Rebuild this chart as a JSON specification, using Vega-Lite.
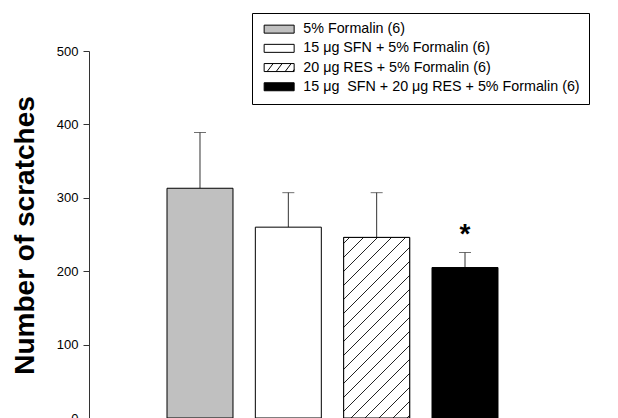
{
  "$schema": "https://vega.github.io/schema/vega-lite/v6.json",
  "autosize": {"type": "none"},
  "padding": {"left": 89, "top": 51, "right": 42, "bottom": 0},
  "width": 487,
  "height": 367,
  "background": "white",
  "config": {"view": {"stroke": null}, "font": "Liberation Sans"},
  "data": {"values": [
    {"g": "5% Formalin (6)", "v": 313, "e": 389},
    {"g": "15 μg SFN + 5% Formalin (6)", "v": 260, "e": 307},
    {"g": "20 μg RES + 5% Formalin (6)", "v": 246, "e": 307, "hatch": true},
    {"g": "15 μg \u00a0SFN + 20 μg RES + 5% Formalin (6)", "v": 205, "e": 225.5, "sig": "*"}
  ]},
  "encoding": {
    "x": {"field": "g", "type": "nominal", "sort": null, "axis": null,
          "scale": {"paddingInner": 0.253, "paddingOuter": 0.883}}
  },
  "layer": [
    {
      "mark": {"type": "rule", "color": "#333", "strokeWidth": 1},
      "encoding": {
        "y": {"field": "v", "type": "quantitative"},
        "y2": {"field": "e"}
      }
    },
    {
      "mark": {"type": "tick", "color": "#333", "size": 12, "thickness": 1, "orient": "horizontal"},
      "encoding": {
        "y": {"field": "e", "type": "quantitative"}
      }
    },
    {
      "mark": {"type": "bar", "stroke": "black", "strokeWidth": 1, "opacity": 1},
      "encoding": {
        "y": {"field": "v", "type": "quantitative",
              "scale": {"domain": [0, 500], "nice": false},
              "axis": {"values": [0, 100, 200, 300, 400, 500], "grid": false,
                       "title": "Number of scratches",
                       "titleFont": "Liberation Sans", "titleFontWeight": "bold", "titleFontSize": 28,
                       "titleColor": "black", "titleAngle": 270, "titleBaseline": "alphabetic",
                       "titleAlign": "center", "titleX": -56, "titleY": 184,
                       "labelFont": "Liberation Sans", "labelFontSize": 13, "labelColor": "black",
                       "labelPadding": 5, "tickSize": 6, "tickColor": "#333", "domainColor": "#333"}},
        "color": {
          "field": "g", "type": "nominal",
          "scale": {"domain": ["5% Formalin (6)", "15 μg SFN + 5% Formalin (6)", "20 μg RES + 5% Formalin (6)", "15 μg \u00a0SFN + 20 μg RES + 5% Formalin (6)"],
                    "range": ["#c0c0c0", "white", "white", "black"]},
          "legend": {
            "orient": "none", "legendX": 163, "legendY": -38, "title": null,
            "symbolType": "M-3,-0.8H3V0.8H-3Z", "symbolSize": 100,
            "symbolStrokeColor": "black", "symbolStrokeWidth": 1, "symbolOpacity": 1,
            "symbolOffset": 11, "labelOffset": 17, "labelLimit": 0,
            "labelFont": "Liberation Sans", "labelFontSize": 14.3, "labelColor": "black",
            "rowPadding": 4.2, "strokeColor": "black", "padding": 9,
            "encode": {"symbols": {"update": {"shape": {"signal": "datum.value === '20 μg RES + 5% Formalin (6)' ? 'M-3,-0.8H3V0.8H-3Z M-2.4,0.8L-1.2,-0.8 M-0.6,0.8L0.6,-0.8 M1.2,0.8L2.4,-0.8 M2.7,0.8L3,0.4' : 'M-3,-0.8H3V0.8H-3Z'"}}}}
          }
        }
      }
    },
    {
      "transform": [{"filter": "datum.hatch"}],
      "mark": {"type": "bar", "stroke": "black", "strokeWidth": 1,
        "fill": {"gradient": "linear", "x1": 0, "y1": 0, "x2": 0.44, "y2": 1.205,
              "stops": [
                {"offset": 0, "color": "white"},
                {"offset": 0.0213, "color": "white"}, {"offset": 0.0213, "color": "#222"}, {"offset": 0.0273, "color": "#222"}, {"offset": 0.0273, "color": "white"},
                {"offset": 0.0781, "color": "white"}, {"offset": 0.0781, "color": "#222"}, {"offset": 0.0841, "color": "#222"}, {"offset": 0.0841, "color": "white"},
                {"offset": 0.1349, "color": "white"}, {"offset": 0.1349, "color": "#222"}, {"offset": 0.1409, "color": "#222"}, {"offset": 0.1409, "color": "white"},
                {"offset": 0.1916, "color": "white"}, {"offset": 0.1916, "color": "#222"}, {"offset": 0.1976, "color": "#222"}, {"offset": 0.1976, "color": "white"},
                {"offset": 0.2484, "color": "white"}, {"offset": 0.2484, "color": "#222"}, {"offset": 0.2544, "color": "#222"}, {"offset": 0.2544, "color": "white"},
                {"offset": 0.3052, "color": "white"}, {"offset": 0.3052, "color": "#222"}, {"offset": 0.3112, "color": "#222"}, {"offset": 0.3112, "color": "white"},
                {"offset": 0.3620, "color": "white"}, {"offset": 0.3620, "color": "#222"}, {"offset": 0.3680, "color": "#222"}, {"offset": 0.3680, "color": "white"},
                {"offset": 0.4187, "color": "white"}, {"offset": 0.4187, "color": "#222"}, {"offset": 0.4247, "color": "#222"}, {"offset": 0.4247, "color": "white"},
                {"offset": 0.4755, "color": "white"}, {"offset": 0.4755, "color": "#222"}, {"offset": 0.4815, "color": "#222"}, {"offset": 0.4815, "color": "white"},
                {"offset": 0.5323, "color": "white"}, {"offset": 0.5323, "color": "#222"}, {"offset": 0.5383, "color": "#222"}, {"offset": 0.5383, "color": "white"},
                {"offset": 0.5890, "color": "white"}, {"offset": 0.5890, "color": "#222"}, {"offset": 0.5950, "color": "#222"}, {"offset": 0.5950, "color": "white"},
                {"offset": 0.6458, "color": "white"}, {"offset": 0.6458, "color": "#222"}, {"offset": 0.6518, "color": "#222"}, {"offset": 0.6518, "color": "white"},
                {"offset": 0.7026, "color": "white"}, {"offset": 0.7026, "color": "#222"}, {"offset": 0.7086, "color": "#222"}, {"offset": 0.7086, "color": "white"},
                {"offset": 0.7594, "color": "white"}, {"offset": 0.7594, "color": "#222"}, {"offset": 0.7654, "color": "#222"}, {"offset": 0.7654, "color": "white"},
                {"offset": 0.8161, "color": "white"}, {"offset": 0.8161, "color": "#222"}, {"offset": 0.8221, "color": "#222"}, {"offset": 0.8221, "color": "white"},
                {"offset": 0.8729, "color": "white"}, {"offset": 0.8729, "color": "#222"}, {"offset": 0.8789, "color": "#222"}, {"offset": 0.8789, "color": "white"},
                {"offset": 0.9297, "color": "white"}, {"offset": 0.9297, "color": "#222"}, {"offset": 0.9357, "color": "#222"}, {"offset": 0.9357, "color": "white"},
                {"offset": 0.9864, "color": "white"}, {"offset": 0.9864, "color": "#222"}, {"offset": 0.9924, "color": "#222"}, {"offset": 0.9924, "color": "white"},
                {"offset": 1, "color": "white"}
              ]}},
      "encoding": {
        "y": {"field": "v", "type": "quantitative"}
      }
    },
    {
      "transform": [{"filter": "datum.sig"}],
      "mark": {"type": "text", "font": "Liberation Sans", "fontWeight": "bold", "fontSize": 28, "baseline": "alphabetic", "dy": -9, "color": "black"},
      "encoding": {
        "y": {"field": "e", "type": "quantitative"},
        "text": {"field": "sig"}
      }
    }
  ]
}
